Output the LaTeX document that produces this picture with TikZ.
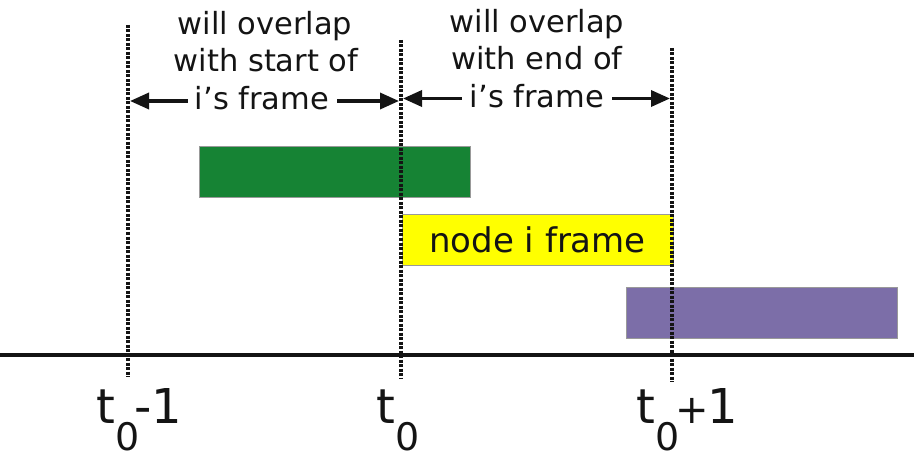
\documentclass[tikz,border=0pt]{standalone}
\usepackage{fontspec}
\setmainfont{DejaVu Sans}
\usetikzlibrary{arrows.meta}
\definecolor{gbar}{RGB}{22,131,52}
\definecolor{ybar}{RGB}{255,255,0}
\definecolor{pbar}{RGB}{124,110,168}
\definecolor{ink}{RGB}{20,20,20}
\newcommand\subzero{\raisebox{-27pt}{\fontsize{38}{40}\selectfont 0}}
\newcommand\plussign{{\fontsize{40}{40}\selectfont +}}
\begin{document}
\begin{tikzpicture}[x=1pt,y=-1pt,
  bar/.style={draw=black!40, line width=0.8pt, minimum width=271pt, minimum height=51pt, inner sep=0pt, outer sep=0pt, anchor=north west},
  dots/.style={draw=ink, line width=3.2pt, dash pattern=on 3pt off 1.5pt},
  axisline/.style={draw=ink, line width=3.5pt},
  toptxt/.style={font=\fontsize{30.5}{36}\selectfont, text=ink, inner sep=0pt, anchor=base},
  lab/.style={font=\fontsize{48}{50}\selectfont, text=ink, inner sep=0pt, anchor=base west},
  arr/.style={draw=ink, line width=3.4pt, -{Triangle[length=19pt,width=16pt]}, shorten >=2pt}]
\path[use as bounding box, fill=white] (0,0) rectangle (914,468);
% bars
\node[bar, fill=gbar] (green) at (199,146) {};
\node[bar, fill=ybar, font=\fontsize{34}{40}\selectfont, text=ink] (yellow) at (402,214) {node i frame};
\node[bar, fill=pbar] (purple) at (626,287) {};
% dotted lines
\coordinate (L1t) at (128,25);  \coordinate (L1b) at (128,377);
\coordinate (L2t) at (401,40);  \coordinate (L2b) at (401,379);
\coordinate (L3t) at (672,48);  \coordinate (L3b) at (672,382);
\draw[dots] (L1t) -- (L1b);
\draw[dots] (L2t) -- (L2b);
\draw[dots] (L3t) -- (L3b);
% axis
\coordinate (A0) at (0,355); \coordinate (A1) at (914,355);
\draw[axisline] (A0) -- (A1);
% top texts
\node[toptxt] (c1a) at (265,35) {will overlap};
\node[toptxt] (c1b) at (266,72) {with start of};
\node[toptxt] (c1c) at (262,110) {i’s frame};
\node[toptxt] (c2a) at (537,33) {will overlap};
\node[toptxt] (c2b) at (537,70) {with end of};
\node[toptxt] (c2c) at (537,108) {i’s frame};
% arrows
\coordinate (p1) at ([shift={(-7pt,9pt)}]c1c.base west);
\coordinate (p2) at ([shift={(8pt,9pt)}]c1c.base east);
\coordinate (p3) at ([shift={(-8pt,9.5pt)}]c2c.base west);
\coordinate (p4) at ([shift={(8pt,9.5pt)}]c2c.base east);
\draw[arr] (p1) -- (p1 -| L1t);
\draw[arr] (p2) -- (p2 -| L2t);
\draw[arr] (p3) -- (p3 -| L2t);
\draw[arr] (p4) -- (p4 -| L3t);
% time labels
\node[lab] (T1) at (96,423) {t\subzero\kern-5pt-1};
\node[lab] (T2) at (376,423) {t\subzero};
\node[lab] (T3) at (636,423) {t\subzero\kern-4pt\plussign\kern-1pt1};
\end{tikzpicture}
\end{document}
